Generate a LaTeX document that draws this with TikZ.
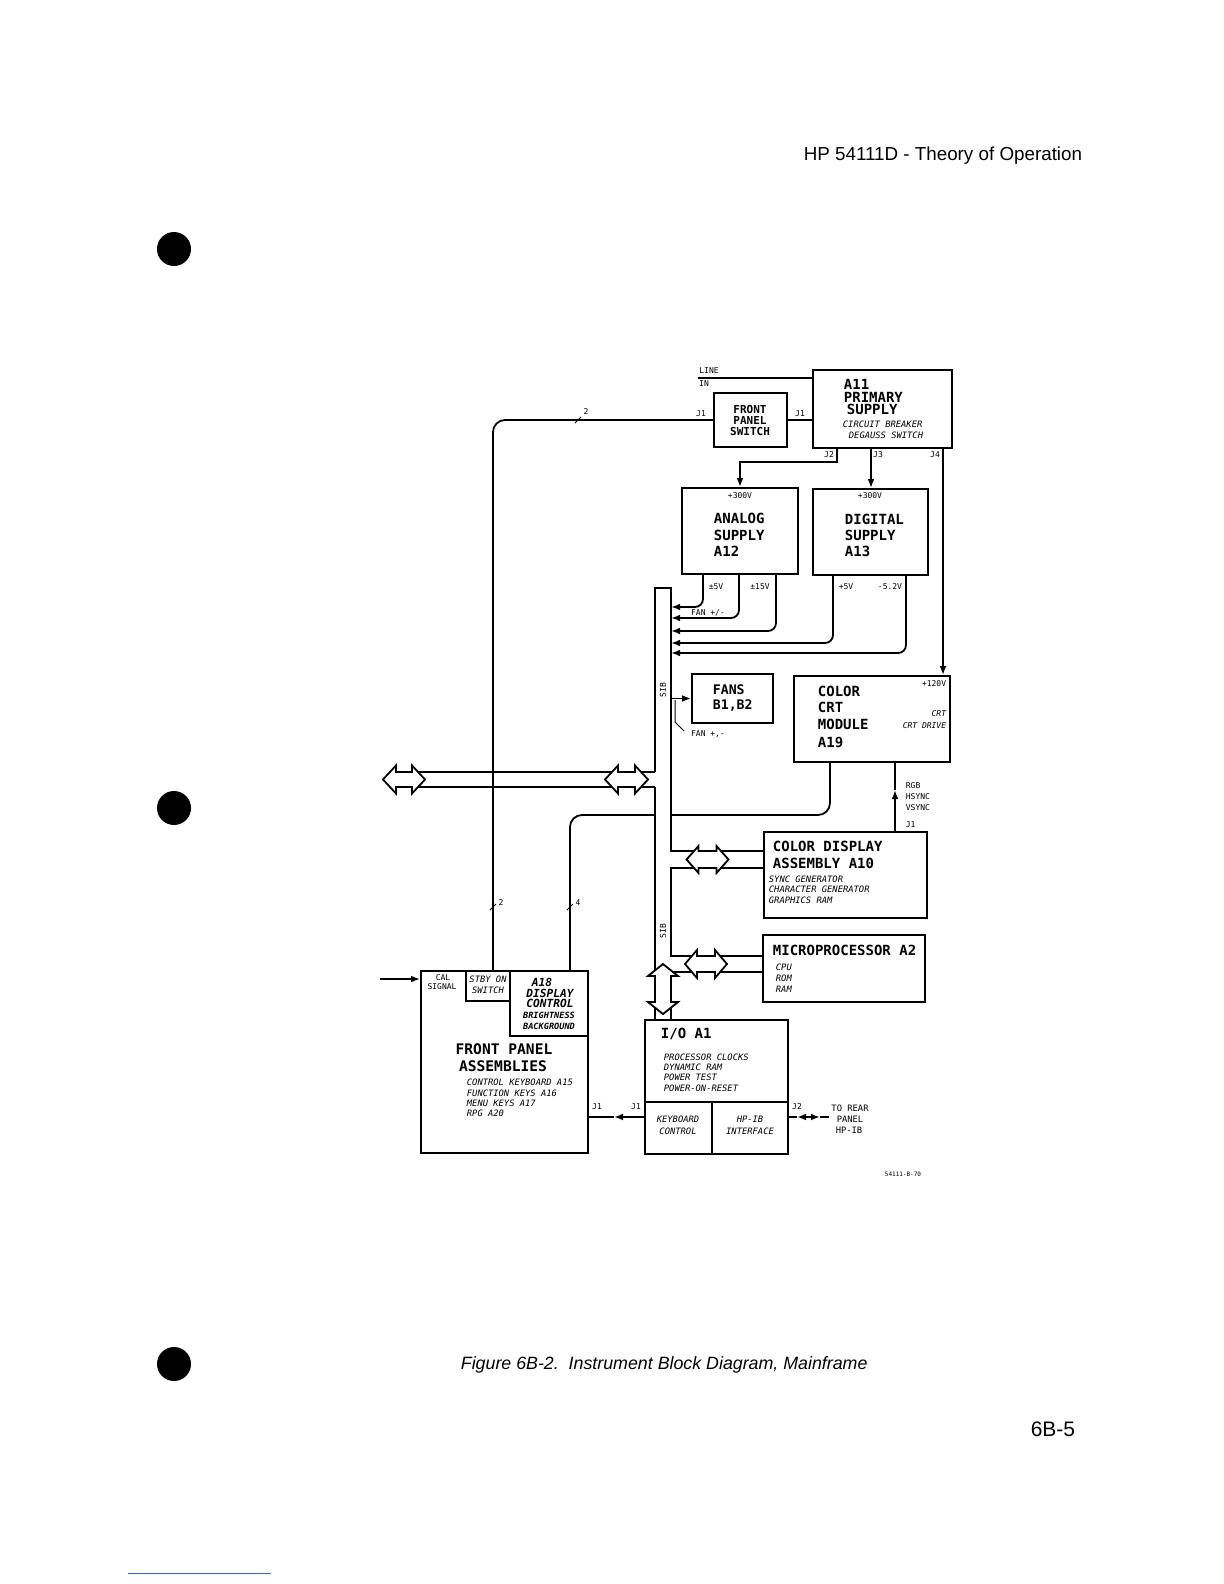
\documentclass[tikz,border=0pt]{standalone}
\usepackage{fontspec}
\setmainfont{Liberation Sans}
\setmonofont{DejaVu Sans Mono}
\usetikzlibrary{arrows.meta,fit}
% open double-headed bus arrow: centre x, centre y, half length, head length, half shaft, half head width, rotation
\newcommand{\hpdblarrow}[7]{%
  \begin{scope}[shift={(#1,#2)},rotate=#7]
    \filldraw[fill=white,line join=miter] (-#3,0) -- (-#3+#4,-#6) -- (-#3+#4,-#5) -- (#3-#4,-#5) -- (#3-#4,-#6) -- (#3,0)
      -- (#3-#4,#6) -- (#3-#4,#5) -- (-#3+#4,#5) -- (-#3+#4,#6) -- cycle;
  \end{scope}}
\begin{document}
\begin{tikzpicture}[x=0.5pt,y=-0.5pt,line width=0.9pt,
  bx/.style={draw,line width=0.9pt,inner sep=0pt},
  >={Latex[length=4.5pt,width=3.4pt]},
  tbig/.style={font=\ttfamily\bfseries\fontsize{7}{8}\selectfont,inner sep=0pt,anchor=west},
  tmid/.style={font=\ttfamily\bfseries\fontsize{5.5}{6}\selectfont,inner sep=0pt},
  tsm/.style={font=\ttfamily\itshape\fontsize{4.4}{5}\selectfont,inner sep=0pt,anchor=west},
  tlab/.style={font=\ttfamily\fontsize{4}{5}\selectfont,inner sep=0pt},
  pagetext/.style={inner sep=0pt,font=\fontsize{9.4}{11}\selectfont}]
\useasboundingbox (0,0) rectangle (1224,1584);
\fill[white] (0,0) rectangle (1224,1584);

% page furniture
\node[pagetext,anchor=east] (hdr) at (1083,156) {HP 54111D - Theory of Operation};
\node[pagetext,anchor=west,font=\fontsize{8.9}{11}\selectfont\itshape] (cap) at (460,1365) {Figure 6B-2.\ \ Instrument Block Diagram, Mainframe};
\node[pagetext,anchor=east,font=\fontsize{10.5}{12}\selectfont] (pgn) at (1076,1429) {6B-5};
\node[circle,fill=black,minimum size=17pt,inner sep=0pt] (bul1) at (174,249) {};
\node[circle,fill=black,minimum size=17pt,inner sep=0pt] (bul2) at (174,808) {};
\node[circle,fill=black,minimum size=17pt,inner sep=0pt] (bul3) at (174,1364) {};
\draw[line width=0.5pt,color={rgb,255:red,70;green,100;blue,210}] (128,1573) -- (271,1573);

% boxes
\node[bx,fit={(813,370) (952,448)}] (a11) {};
\node[bx,fit={(714,393) (787,447)}] (fps) {};
\node[bx,fit={(682,488) (798,574)}] (an) {};
\node[bx,fit={(813,489) (928,575)}] (dg) {};
\node[bx,fit={(692,674) (773,723)}] (fans) {};
\node[bx,fit={(794,676) (950,762)}] (crt) {};
\node[bx,fit={(764,832) (927,918)}] (a10) {};
\node[bx,fit={(763,935) (925,1002)}] (mp) {};
\node[bx,fit={(645,1020) (788,1154)}] (io) {};
\node[bx,fit={(421,971) (588,1153)}] (fp) {};
\node[bx,fit={(466,971) (510,1001)}] (stby) {};
\node[bx,fit={(510,971) (588,1036)}] (a18) {};

% I/O dividers
\coordinate (iod) at (712,1102);
\draw (io.west |- iod) -- (io.east |- iod);
\draw (iod) -- (io.south -| iod);

% A11 text
\node[tbig] (a11t1) at (843,384) {A11};
\node[tbig] (a11t2) at (843,397) {PRIMARY};
\node[tbig] (a11t3) at (846,409) {SUPPLY};
\node[tsm] (a11t4) at (842,424) {CIRCUIT BREAKER};
\node[tsm] (a11t5) at (848,435) {DEGAUSS SWITCH};
% front panel switch
\node[tmid] (fpst1) at (750,409) {FRONT};
\node[tmid] (fpst2) at (750,420) {PANEL};
\node[tmid] (fpst3) at (750,431) {SWITCH};
% line in
\coordinate (linein) at (698,378);
\draw (linein) -- (a11.west |- linein);
\node[tlab] (lin1) at (709,371) {LINE};
\node[tlab] (lin2) at (704,384) {IN};

% line 2 and FPS-A11
\coordinate (c2) at (493,420);
\draw[rounded corners=6pt] (stby.north -| c2) -- (c2) -- (fps.west |- c2);
\draw (fps.east |- c2) -- (a11.west |- c2);
\draw[line width=0.5pt] (575,423) -- (581,417);
\node[tlab] (l2a) at (586,412) {2};
\node[tlab] (j1a) at (701,414) {J1};
\node[tlab] (j1b) at (800,414) {J1};
\draw[line width=0.5pt] (490,910) -- (496,904);
\node[tlab] (l2b) at (501,903) {2};

% J2 J3 J4
\coordinate (cj2) at (837,462);
\coordinate (cj2b) at (740,462);
\coordinate (cj3) at (871,462);
\coordinate (cj4) at (943,462);
\draw[->] (a11.south -| cj2) -- (cj2) -- (cj2b) -- (an.north -| cj2b);
\draw[->] (a11.south -| cj3) -- (dg.north -| cj3);
\draw[->] (a11.south -| cj4) -- (crt.north -| cj4);
\node[tlab] (j2l) at (829,455) {J2};
\node[tlab] (j3l) at (878,455) {J3};
\node[tlab] (j4l) at (935,455) {J4};

% supplies text
\node[tlab] (an300) at (740,496) {+300V};
\node[tbig] (ant1) at (713,518) {ANALOG};
\node[tbig] (ant2) at (713,535) {SUPPLY};
\node[tbig] (ant3) at (713,551) {A12};
\node[tlab] (dg300) at (870,496) {+300V};
\node[tbig] (dgt1) at (844,519) {DIGITAL};
\node[tbig] (dgt2) at (844,535) {SUPPLY};
\node[tbig] (dgt3) at (844,551) {A13};
\node[tlab] (v5a) at (716,587) {±5V};
\node[tlab] (v15) at (760,587) {±15V};
\node[tlab] (v5d) at (846,587) {+5V};
\node[tlab] (v52) at (890,587) {-5.2V};

% SIB bus
\coordinate (sTL) at (655,588);
\coordinate (sTR) at (671,588);
\coordinate (hT) at (655,772);
\coordinate (hB) at (655,787);
\coordinate (b10T) at (671,851);
\coordinate (b10B) at (671,868);
\coordinate (bmpT) at (671,956);
\coordinate (bmpB) at (671,972);

% supply outputs into bus
\coordinate (c5) at (703,607);
\coordinate (cfan) at (739,618);
\coordinate (c15) at (776,631);
\coordinate (cp5) at (833,643);
\coordinate (cm52) at (906,653);
\draw[->,rounded corners=4pt] (an.south -| c5) -- (c5) -- (sTR |- c5);
\draw[->,rounded corners=4pt] (an.south -| cfan) -- (cfan) -- (sTR |- cfan);
\draw[->,rounded corners=4pt] (an.south -| c15) -- (c15) -- (sTR |- c15);
\draw[->,rounded corners=4pt] (dg.south -| cp5) -- (cp5) -- (sTR |- cp5);
\draw[->,rounded corners=4pt] (dg.south -| cm52) -- (cm52) -- (sTR |- cm52);
\node[tlab] (fanl1) at (708,613) {FAN +/-};

% fans
\draw[->] (sTR |- fans.west) -- (fans.west);
\node[tbig,font=\ttfamily\bfseries\fontsize{6.6}{7}\selectfont] (fant1) at (712,690) {FANS};
\node[tbig,font=\ttfamily\bfseries\fontsize{6.6}{7}\selectfont] (fant2) at (712,706) {B1,B2};
\coordinate (fl1) at (675,700);
\coordinate (fl2) at (675,722);
\coordinate (fl3) at (684,731);
\draw[line width=0.5pt] (fl1) -- (fl2) -- (fl3);
\node[tlab] (fanl2) at (708,734) {FAN +,-};
\node[tlab,rotate=90] (sib1) at (663,690) {SIB};
\node[tlab,rotate=90] (sib2) at (663,931) {SIB};

% CRT
\node[tbig] (crtt1) at (817,691) {COLOR};
\node[tbig] (crtt2) at (817,707) {CRT};
\node[tbig] (crtt3) at (817,724) {MODULE};
\node[tbig] (crtt4) at (817,742) {A19};
\node[tlab,anchor=east] (crt120) at (947,684) {+120V};
\node[tlab,anchor=east,font=\ttfamily\itshape\fontsize{4}{5}\selectfont] (crtc1) at (947,714) {CRT};
\node[tlab,anchor=east,font=\ttfamily\itshape\fontsize{4}{5}\selectfont] (crtc2) at (947,726) {CRT DRIVE};
\coordinate (ccrt) at (830,815);
\draw[rounded corners=6pt] (crt.south -| ccrt) -- (ccrt) -- (sTR |- ccrt);
\coordinate (crgb) at (895,790);
\draw[->] (a10.north -| crgb) -- (crgb);
\draw (crgb) -- (crt.south -| crgb);
\node[tlab,anchor=west] (rgb1) at (905,786) {RGB};
\node[tlab,anchor=west] (rgb2) at (905,797) {HSYNC};
\node[tlab,anchor=west] (rgb3) at (905,808) {VSYNC};
\node[tlab,anchor=west] (rgbj) at (905,825) {J1};

% line 4
\coordinate (c4) at (570,815);
\draw[rounded corners=6pt] (a18.north -| c4) -- (c4) -- (sTL |- c4);
\draw[line width=0.5pt] (567,910) -- (573,904);
\node[tlab] (l4) at (578,903) {4};

% bus lines
\draw (hT) -- (sTL) -- (sTR) -- (b10T) -- (a10.west |- b10T);
\draw (a10.west |- b10B) -- (b10B) -- (bmpT) -- (mp.west |- bmpT);
\draw (mp.west |- bmpB) -- (bmpB) -- (io.north -| bmpB);
\draw (hB) -- (io.north -| hB);
\coordinate (hLc) at (404,779.5);
\coordinate (hRc) at (626.5,779.5);
\draw (hT) -- (hLc |- hT);
\draw (hB) -- (hLc |- hB);
% bus arrows
\hpdblarrow{404}{779.5}{21}{13}{7.5}{14}{0}
\hpdblarrow{626.5}{779.5}{21.5}{13}{7.5}{14}{0}
\hpdblarrow{707.5}{859.5}{21}{12}{8.5}{13.5}{0}
\hpdblarrow{706}{964}{21}{12}{8}{14}{0}
\hpdblarrow{663}{989}{25}{12}{8}{15}{90}

% A10 text
\node[tbig] (a10t1) at (772,846) {COLOR DISPLAY};
\node[tbig] (a10t2) at (772,863) {ASSEMBLY A10};
\node[tsm] (a10t3) at (768,879) {SYNC GENERATOR};
\node[tsm] (a10t4) at (768,889) {CHARACTER GENERATOR};
\node[tsm] (a10t5) at (768,900) {GRAPHICS RAM};
% MP text
\node[tbig] (mpt1) at (772,950) {MICROPROCESSOR A2};
\node[tsm] (mpt2) at (775,967) {CPU};
\node[tsm] (mpt3) at (775,978) {ROM};
\node[tsm] (mpt4) at (775,989) {RAM};
% IO text
\node[tbig] (iot1) at (660,1034) {I/O A1};
\node[tsm] (iot2) at (663,1057) {PROCESSOR CLOCKS};
\node[tsm] (iot3) at (663,1067) {DYNAMIC RAM};
\node[tsm] (iot4) at (663,1077) {POWER TEST};
\node[tsm] (iot5) at (663,1088) {POWER-ON-RESET};
\node[tsm,anchor=center] (iok1) at (678,1119) {KEYBOARD};
\node[tsm,anchor=center] (iok2) at (678,1131) {CONTROL};
\node[tsm,anchor=center] (ioh1) at (750,1119) {HP-IB};
\node[tsm,anchor=center] (ioh2) at (750,1131) {INTERFACE};

% J1 I/O to front panel
\coordinate (j1m) at (614,1117);
\draw[->] (io.west |- j1m) -- (j1m);
\draw (j1m) -- (fp.east |- j1m);
\node[tlab] (j1c) at (597,1107) {J1};
\node[tlab] (j1d) at (636,1107) {J1};
% J2 to rear panel
\coordinate (j2m) at (808,1117);
\coordinate (j2lft) at (797,1117);
\coordinate (j2rgt) at (820,1117);
\coordinate (j2end) at (829,1117);
\draw (io.east |- j2m) -- (j2lft);
\draw[->] (j2m) -- (j2lft);
\draw[->] (j2m) -- (j2rgt);
\draw (j2rgt) -- (j2end);
\node[tlab] (j2lab) at (797,1107) {J2};
\node[tlab,font=\ttfamily\fontsize{4.4}{5}\selectfont] (rp1) at (850,1108) {TO REAR};
\node[tlab,font=\ttfamily\fontsize{4.4}{5}\selectfont] (rp2) at (850,1119) {PANEL};
\node[tlab,font=\ttfamily\fontsize{4.4}{5}\selectfont] (rp3) at (849,1130) {HP-IB};
\node[tlab,font=\ttfamily\fontsize{3}{4}\selectfont] (code) at (903,1174) {54111-B-70};

% front panel
\coordinate (calin) at (380,979);
\draw[->] (calin) -- (fp.west |- calin);
\node[tlab] (cal1) at (443,978) {CAL};
\node[tlab] (cal2) at (442,987) {SIGNAL};
\node[tsm,anchor=center] (sb1) at (488,979) {STBY ON};
\node[tsm,anchor=center] (sb2) at (488,990) {SWITCH};
\node[tmid,font=\ttfamily\bfseries\itshape\fontsize{5.6}{6}\selectfont] (a18t1) at (542,982) {A18};
\node[tmid,font=\ttfamily\bfseries\itshape\fontsize{5.6}{6}\selectfont] (a18t2) at (550,993) {DISPLAY};
\node[tmid,font=\ttfamily\bfseries\itshape\fontsize{5.6}{6}\selectfont] (a18t3) at (550,1003) {CONTROL};
\node[tmid,font=\ttfamily\bfseries\itshape\fontsize{4.3}{5}\selectfont] (a18t4) at (549,1015) {BRIGHTNESS};
\node[tmid,font=\ttfamily\bfseries\itshape\fontsize{4.3}{5}\selectfont] (a18t5) at (549,1026) {BACKGROUND};
\node[tbig,anchor=center,font=\ttfamily\bfseries\fontsize{7.3}{8}\selectfont] (fpt1) at (504,1049) {FRONT PANEL};
\node[tbig,anchor=center,font=\ttfamily\bfseries\fontsize{7.3}{8}\selectfont] (fpt2) at (503,1066) {ASSEMBLIES};
\node[tsm] (fpt3) at (466,1082) {CONTROL KEYBOARD A15};
\node[tsm] (fpt4) at (466,1093) {FUNCTION KEYS A16};
\node[tsm] (fpt5) at (466,1103) {MENU KEYS A17};
\node[tsm] (fpt6) at (466,1113) {RPG A20};
\end{tikzpicture}
\end{document}
